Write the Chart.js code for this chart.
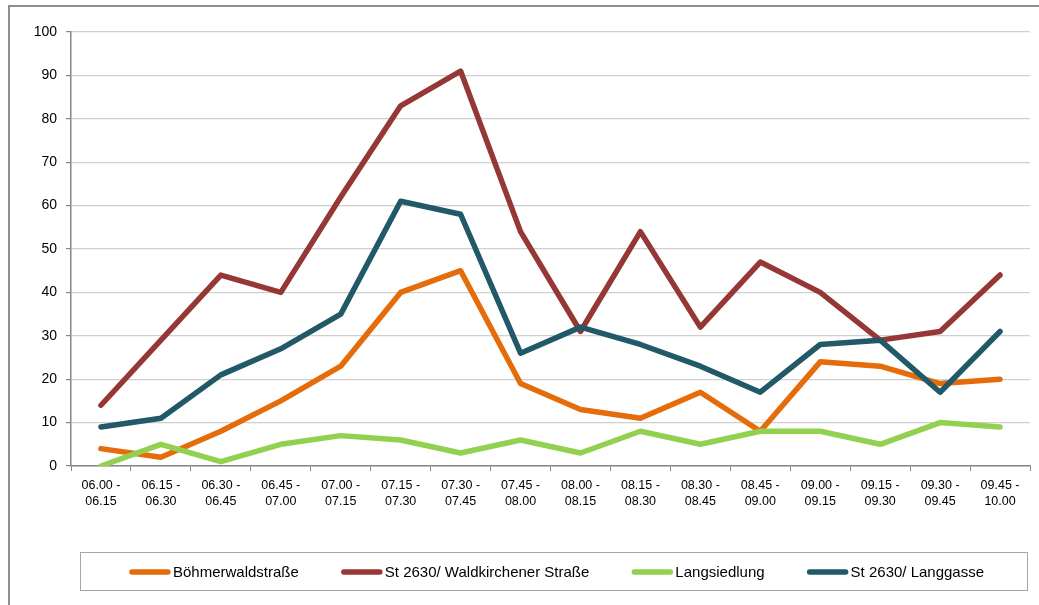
<!DOCTYPE html>
<html>
<head>
<meta charset="utf-8">
<script src="https://cdn.jsdelivr.net/npm/chart.js@4/dist/chart.umd.min.js"></script>
<style>
  html, body { margin: 0; padding: 0; background: #fff; }
  #wrap { width: 1039px; height: 605px; position: relative; }
</style>
</head>
<body>
<div id="wrap"><canvas id="chart" width="1039" height="605"></canvas></div>
<script>
// time slots (two-line labels as in the original)
const slots = [
  ['06.00 -','06.15'], ['06.15 -','06.30'], ['06.30 -','06.45'], ['06.45 -','07.00'],
  ['07.00 -','07.15'], ['07.15 -','07.30'], ['07.30 -','07.45'], ['07.45 -','08.00'],
  ['08.00 -','08.15'], ['08.15 -','08.30'], ['08.30 -','08.45'], ['08.45 -','09.00'],
  ['09.00 -','09.15'], ['09.15 -','09.30'], ['09.30 -','09.45'], ['09.45 -','10.00']
];

const boehmerwald   = [4, 2, 8, 15, 23, 40, 45, 19, 13, 11, 17, 8, 24, 23, 19, 20];
const waldkirchener = [14, 29, 44, 40, 62, 83, 91, 54, 31, 54, 32, 47, 40, 29, 31, 44];
const langsiedlung  = [0, 5, 1, 5, 7, 6, 3, 6, 3, 8, 5, 8, 8, 5, 10, 9];
const langgasse     = [9, 11, 21, 27, 35, 61, 58, 26, 32, 28, 23, 17, 28, 29, 17, 31];

const yMin = 0, yMax = 100, yStep = 10;

const FONT = "'Liberation Sans', Arial, sans-serif";

function series(label, data, color, order) {
  return {
    label, data,
    borderColor: color,
    backgroundColor: color,
    borderWidth: 5.5,
    borderCapStyle: 'round',
    borderJoinStyle: 'round',
    pointRadius: 0,
    tension: 0,
    order
  };
}

// frame + boxed legend, drawn like the spreadsheet export
const frameLegend = {
  id: 'frameLegend',
  afterDraw(chart) {
    const c = chart.ctx;
    c.save();
    c.strokeStyle = '#8e8e8e';
    c.lineWidth = 2;
    c.strokeRect(9, 6, 1100, 700);

    c.strokeStyle = '#a6a6a6';
    c.lineWidth = 1;
    c.strokeRect(80.5, 552.5, 947, 38);

    c.font = '15px ' + FONT;
    c.textBaseline = 'middle';
    const lineW = 40, gapTxt = 3, gapItem = 43, cy = 572;
    const ds = chart.data.datasets;
    let total = 0;
    const widths = ds.map(d => c.measureText(d.label).width);
    widths.forEach(w => total += lineW + gapTxt + w);
    total += gapItem * (ds.length - 1);
    let x = 557 - total / 2;
    ds.forEach((d, i) => {
      c.strokeStyle = d.borderColor;
      c.lineWidth = 5.5;
      c.lineCap = 'round';
      c.beginPath();
      c.moveTo(x + 2, cy);
      c.lineTo(x + lineW - 2, cy);
      c.stroke();
      c.fillStyle = '#000';
      c.fillText(d.label, x + lineW + gapTxt, cy + 1);
      x += lineW + gapTxt + widths[i] + gapItem;
    });
    c.restore();
  }
};

new Chart(document.getElementById('chart'), {
  type: 'line',
  data: {
    labels: slots,
    datasets: [
      series('Böhmerwaldstraße', boehmerwald, '#e46c0a', 3),
      series('St 2630/ Waldkirchener Straße', waldkirchener, '#953735', 2),
      series('Langsiedlung', langsiedlung, '#92d050', 1),
      series('St 2630/ Langgasse', langgasse, '#215968', 0)
    ]
  },
  options: {
    responsive: false,
    animation: false,
    layout: { padding: { left: 0, top: 32, right: 9, bottom: 0 } },
    plugins: { legend: { display: false }, tooltip: { enabled: false } },
    scales: {
      x: {
        offset: true,
        grid: { offset: true, drawOnChartArea: false, tickLength: 5, tickColor: '#868686' },
        border: { color: '#868686', width: 1.5 },
        ticks: { color: '#000', font: { family: FONT, size: 12.5, lineHeight: 1.3 }, maxRotation: 0, autoSkip: false, padding: 6 },
        afterFit: s => { s.height = 139; }
      },
      y: {
        min: yMin, max: yMax,
        grid: { color: '#d0d0d0', lineWidth: 1.2, tickLength: 5, tickColor: '#868686' },
        border: { color: '#868686', width: 1.5 },
        ticks: { stepSize: yStep, color: '#000', font: { family: FONT, size: 14 }, padding: 9 },
        afterFit: s => { s.width = 71; }
      }
    }
  },
  plugins: [frameLegend]
});
</script>
</body>
</html>
